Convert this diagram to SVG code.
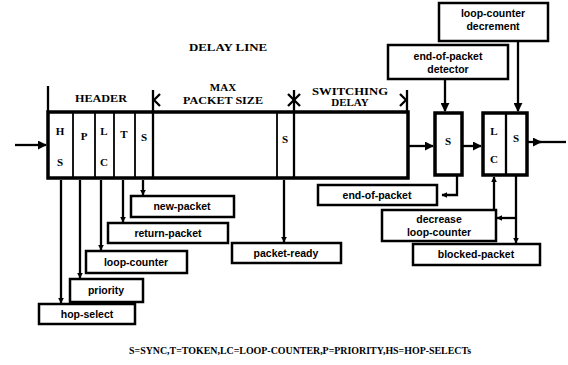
<svg xmlns="http://www.w3.org/2000/svg" width="568" height="365" viewBox="0 0 568 365">
<style>
.bx{fill:#fff;stroke:#000;stroke-width:2.5}
.ln{fill:none;stroke:#000;stroke-width:2.3}
.thin{fill:none;stroke:#000;stroke-width:1.8}
.lbl{font-family:"Liberation Sans",Arial,sans-serif;font-weight:bold;font-size:10.5px;text-anchor:middle;fill:#000}
.hd{font-family:"Liberation Serif","Times New Roman",serif;font-weight:bold;font-size:11px;text-anchor:middle;fill:#000}
.cell{font-family:"Liberation Serif","Times New Roman",serif;font-weight:bold;font-size:11px;text-anchor:middle;fill:#000}
</style>
<defs>
<marker id="ah" viewBox="0 0 10 10" refX="9" refY="5" markerWidth="6" markerHeight="6" orient="auto" markerUnits="userSpaceOnUse">
<path d="M0,0 L10,5 L0,10 Z" fill="#000"/>
</marker>
<marker id="ahb" viewBox="0 0 10 10" refX="9" refY="5" markerWidth="9" markerHeight="9" orient="auto" markerUnits="userSpaceOnUse">
<path d="M0,0 L10,5 L0,10 Z" fill="#000"/>
</marker>
</defs>
<rect width="568" height="365" fill="#fff"/>

<text class="hd" x="228" y="51" textLength="78" lengthAdjust="spacingAndGlyphs">DELAY LINE</text>

<g id="delay-line">
<rect x="48" y="112" width="360" height="66" fill="#fff" stroke="#000" stroke-width="3.5"/>
<line class="thin" x1="73" y1="112" x2="73" y2="178"/>
<line class="thin" x1="95" y1="112" x2="95" y2="178"/>
<line class="thin" x1="114" y1="112" x2="114" y2="178"/>
<line class="thin" x1="135" y1="112" x2="135" y2="178"/>
<line class="ln" x1="153" y1="112" x2="153" y2="178"/>
<line class="thin" x1="277" y1="112" x2="277" y2="178"/>
<line class="ln" x1="294" y1="112" x2="294" y2="178"/>
<text class="cell" x="60" y="135">H</text>
<text class="cell" x="60" y="166">S</text>
<text class="cell" x="84" y="140">P</text>
<text class="cell" x="104" y="135">L</text>
<text class="cell" x="104" y="166">C</text>
<text class="cell" x="124" y="138">T</text>
<text class="cell" x="144" y="141">S</text>
<text class="cell" x="285" y="143">S</text>
<line class="ln" x1="48" y1="86" x2="48" y2="112"/>
<text class="hd" x="101" y="102" textLength="52" lengthAdjust="spacingAndGlyphs">HEADER</text>
<line class="ln" x1="153" y1="90" x2="153" y2="112"/>
<polyline class="ln" points="160,94 154,100 160,106"/>
<text class="hd" x="223" y="91">MAX</text>
<text class="hd" x="223" y="104" textLength="80" lengthAdjust="spacingAndGlyphs">PACKET SIZE</text>
<line class="ln" x1="294" y1="90" x2="294" y2="112"/>
<line class="ln" x1="288" y1="94" x2="300" y2="106"/>
<line class="ln" x1="300" y1="94" x2="288" y2="106"/>
<text class="hd" x="350" y="95" textLength="76" lengthAdjust="spacingAndGlyphs">SWITCHING</text>
<text class="hd" x="350" y="106">DELAY</text>
<line class="ln" x1="407" y1="90" x2="407" y2="112"/>
<polyline class="ln" points="400,94 406,100 400,106"/>
</g>

<g id="eop-sync">
<rect x="435" y="113" width="27" height="62" fill="#fff" stroke="#000" stroke-width="3.5"/>
<text class="cell" x="448" y="145">S</text>
</g>

<g id="lc-sync">
<rect x="483" y="113" width="44" height="62" fill="#fff" stroke="#000" stroke-width="3.5"/>
<line class="ln" x1="506" y1="113" x2="506" y2="175"/>
<text class="cell" x="494" y="135">L</text>
<text class="cell" x="494" y="163">C</text>
<text class="cell" x="516" y="142">S</text>
</g>

<g id="eop-detector">
<rect class="bx" x="388" y="45" width="120" height="34"/>
<text class="lbl" x="448" y="60">end-of-packet</text>
<text class="lbl" x="448" y="73">detector</text>
</g>
<g id="lc-decrement">
<rect class="bx" x="439" y="3" width="109" height="38"/>
<text class="lbl" x="493" y="17">loop-counter</text>
<text class="lbl" x="493" y="30">decrement</text>
</g>

<g id="new-packet"><rect class="bx" x="131" y="196" width="103" height="21"/><text class="lbl" x="182" y="210">new-packet</text></g>
<g id="return-packet"><rect class="bx" x="108" y="223" width="120" height="20"/><text class="lbl" x="168" y="237">return-packet</text></g>
<g id="loop-counter"><rect class="bx" x="86" y="251" width="101" height="22"/><text class="lbl" x="136" y="266">loop-counter</text></g>
<g id="priority"><rect class="bx" x="70" y="279" width="73" height="23"/><text class="lbl" x="106" y="294">priority</text></g>
<g id="hop-select"><rect class="bx" x="39" y="304" width="96" height="20"/><text class="lbl" x="87" y="318">hop-select</text></g>
<g id="packet-ready"><rect class="bx" x="232" y="243" width="109" height="20"/><text class="lbl" x="286" y="257">packet-ready</text></g>
<g id="end-of-packet"><rect class="bx" x="318" y="185" width="119" height="20"/><text class="lbl" x="377" y="199">end-of-packet</text></g>
<g id="decrease-lc"><rect class="bx" x="382" y="210" width="114" height="31"/><text class="lbl" x="439" y="223">decrease</text><text class="lbl" x="439" y="236">loop-counter</text></g>
<g id="blocked-packet"><rect class="bx" x="413" y="244" width="127" height="21"/><text class="lbl" x="476" y="258">blocked-packet</text></g>

<text class="hd" x="300" y="354" font-size="9.5" textLength="342" lengthAdjust="spacingAndGlyphs">S=SYNC,T=TOKEN,LC=LOOP-COUNTER,P=PRIORITY,HS=HOP-SELECTs</text>

<g id="connectors">
<line class="ln" x1="15" y1="145" x2="46" y2="145" marker-end="url(#ahb)"/>
<line class="ln" x1="409" y1="146" x2="433" y2="146" marker-end="url(#ahb)"/>
<line class="ln" x1="463" y1="146" x2="481" y2="146" marker-end="url(#ahb)"/>
<line class="ln" x1="528" y1="142" x2="541" y2="142" marker-end="url(#ahb)"/>
<line class="ln" x1="538" y1="142" x2="566" y2="142"/>
<line class="ln" x1="445" y1="80" x2="445" y2="111" marker-end="url(#ahb)"/>
<line class="ln" x1="518" y1="42" x2="518" y2="111" marker-end="url(#ahb)"/>
<line class="ln" x1="143" y1="180" x2="143" y2="195" marker-end="url(#ah)"/>
<line class="ln" x1="123" y1="180" x2="123" y2="222" marker-end="url(#ah)"/>
<line class="ln" x1="101" y1="180" x2="101" y2="250" marker-end="url(#ah)"/>
<line class="ln" x1="80" y1="180" x2="80" y2="278" marker-end="url(#ah)"/>
<line class="ln" x1="61" y1="180" x2="61" y2="303" marker-end="url(#ah)"/>
<line class="ln" x1="284" y1="180" x2="284" y2="242" marker-end="url(#ah)"/>
<polyline class="ln" points="457,176 457,195 442,195" marker-end="url(#ah)"/>
<line class="ln" x1="494" y1="209" x2="494" y2="177" marker-end="url(#ah)"/>
<line class="ln" x1="516" y1="176" x2="516" y2="243" marker-end="url(#ah)"/>
<line class="ln" x1="516" y1="218" x2="497" y2="218" marker-end="url(#ah)"/>
</g>
</svg>
